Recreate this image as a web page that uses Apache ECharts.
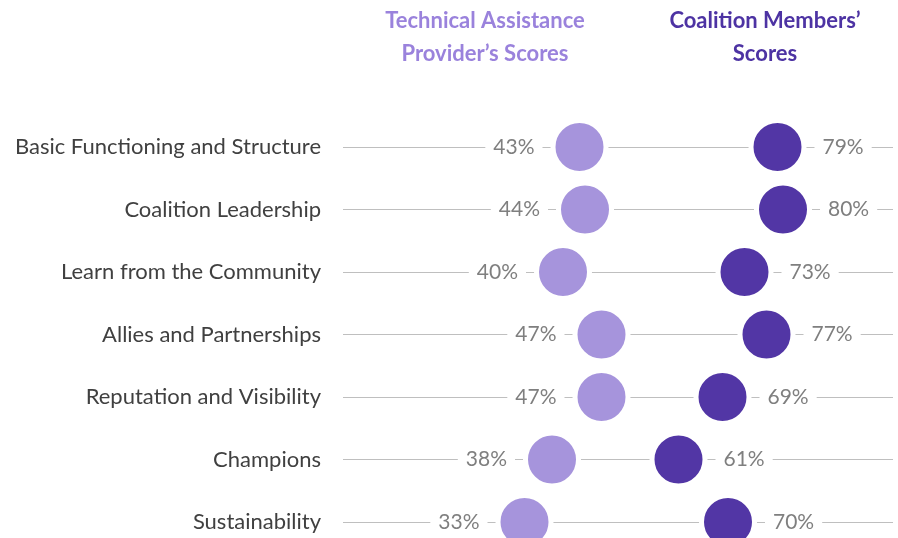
<!DOCTYPE html>
<html>
<head>
<meta charset="utf-8">
<script src="https://cdn.jsdelivr.net/npm/echarts@6/dist/echarts.min.js"></script>
<style>
  html, body { margin: 0; padding: 0; background: #fff; }
  #chart { width: 898px; height: 538px; }
</style>
</head>
<body>
<div id="chart"></div>
<script>
// data
var categories = ['Basic Functioning and Structure', 'Coalition Leadership', 'Learn from the Community', 'Allies and Partnerships', 'Reputation and Visibility', 'Champions', 'Sustainability']
var providerScores = [43, 44, 40, 47, 47, 38, 33]
var memberScores = [79, 80, 73, 77, 69, 61, 70]
var seriesNames = ['Technical Assistance\nProvider’s Scores', 'Coalition Members’\nScores']

var lightPurple = '#a694dc'
var darkPurple = '#5236a5'

function toPoints(vals) {
  return vals.map(function (v, i) { return [v, categories[i]] })
}

function dotSeries(name, vals, color, side) {
  return {
    name: name,
    type: 'scatter',
    symbol: 'circle',
    symbolSize: 53,
    itemStyle: {
      color: color,
      borderColor: '#fff',
      borderWidth: 5,
      opacity: 1
    },
    label: {
      show: true,
      position: side,
      distance: 8,
      formatter: function (p) { return p.value[0] + '%' },
      color: '#7f7f7f',
      fontSize: 21,
      fontFamily: 'Lato',
      backgroundColor: '#fff',
      padding: [2, 8]
    },
    emphasis: { disabled: true },
    data: toPoints(vals)
  }
}

var chart = echarts.init(document.getElementById('chart'))
chart.setOption({
  animation: false,
  title: [
    {
      text: seriesNames[0],
      left: 485,
      top: 4,
      padding: 0,
      textAlign: 'center',
      textStyle: { color: '#9a82dc', fontSize: 22, fontWeight: 'bold', fontFamily: 'Lato', lineHeight: 33 }
    },
    {
      text: seriesNames[1],
      left: 765,
      top: 4,
      padding: 0,
      textAlign: 'center',
      textStyle: { color: '#4d33a3', fontSize: 22, fontWeight: 'bold', fontFamily: 'Lato', lineHeight: 33 }
    }
  ],
  grid: {
    left: 343,
    right: 5,
    top: 147,
    bottom: 16
  },
  xAxis: {
    type: 'value',
    min: 0,
    max: 100,
    show: false
  },
  yAxis: {
    type: 'category',
    data: categories,
    inverse: true,
    boundaryGap: false,
    axisLine: { show: false },
    axisTick: { show: false },
    axisLabel: {
      margin: 22,
      color: '#404040',
      fontSize: 22,
      fontFamily: 'Lato'
    },
    splitLine: {
      show: true,
      lineStyle: { color: '#bfbfbf', width: 1 }
    }
  },
  series: [
    dotSeries('provider', providerScores, lightPurple, 'left'),
    dotSeries('members', memberScores, darkPurple, 'right')
  ]
})
</script>
</body>
</html>
